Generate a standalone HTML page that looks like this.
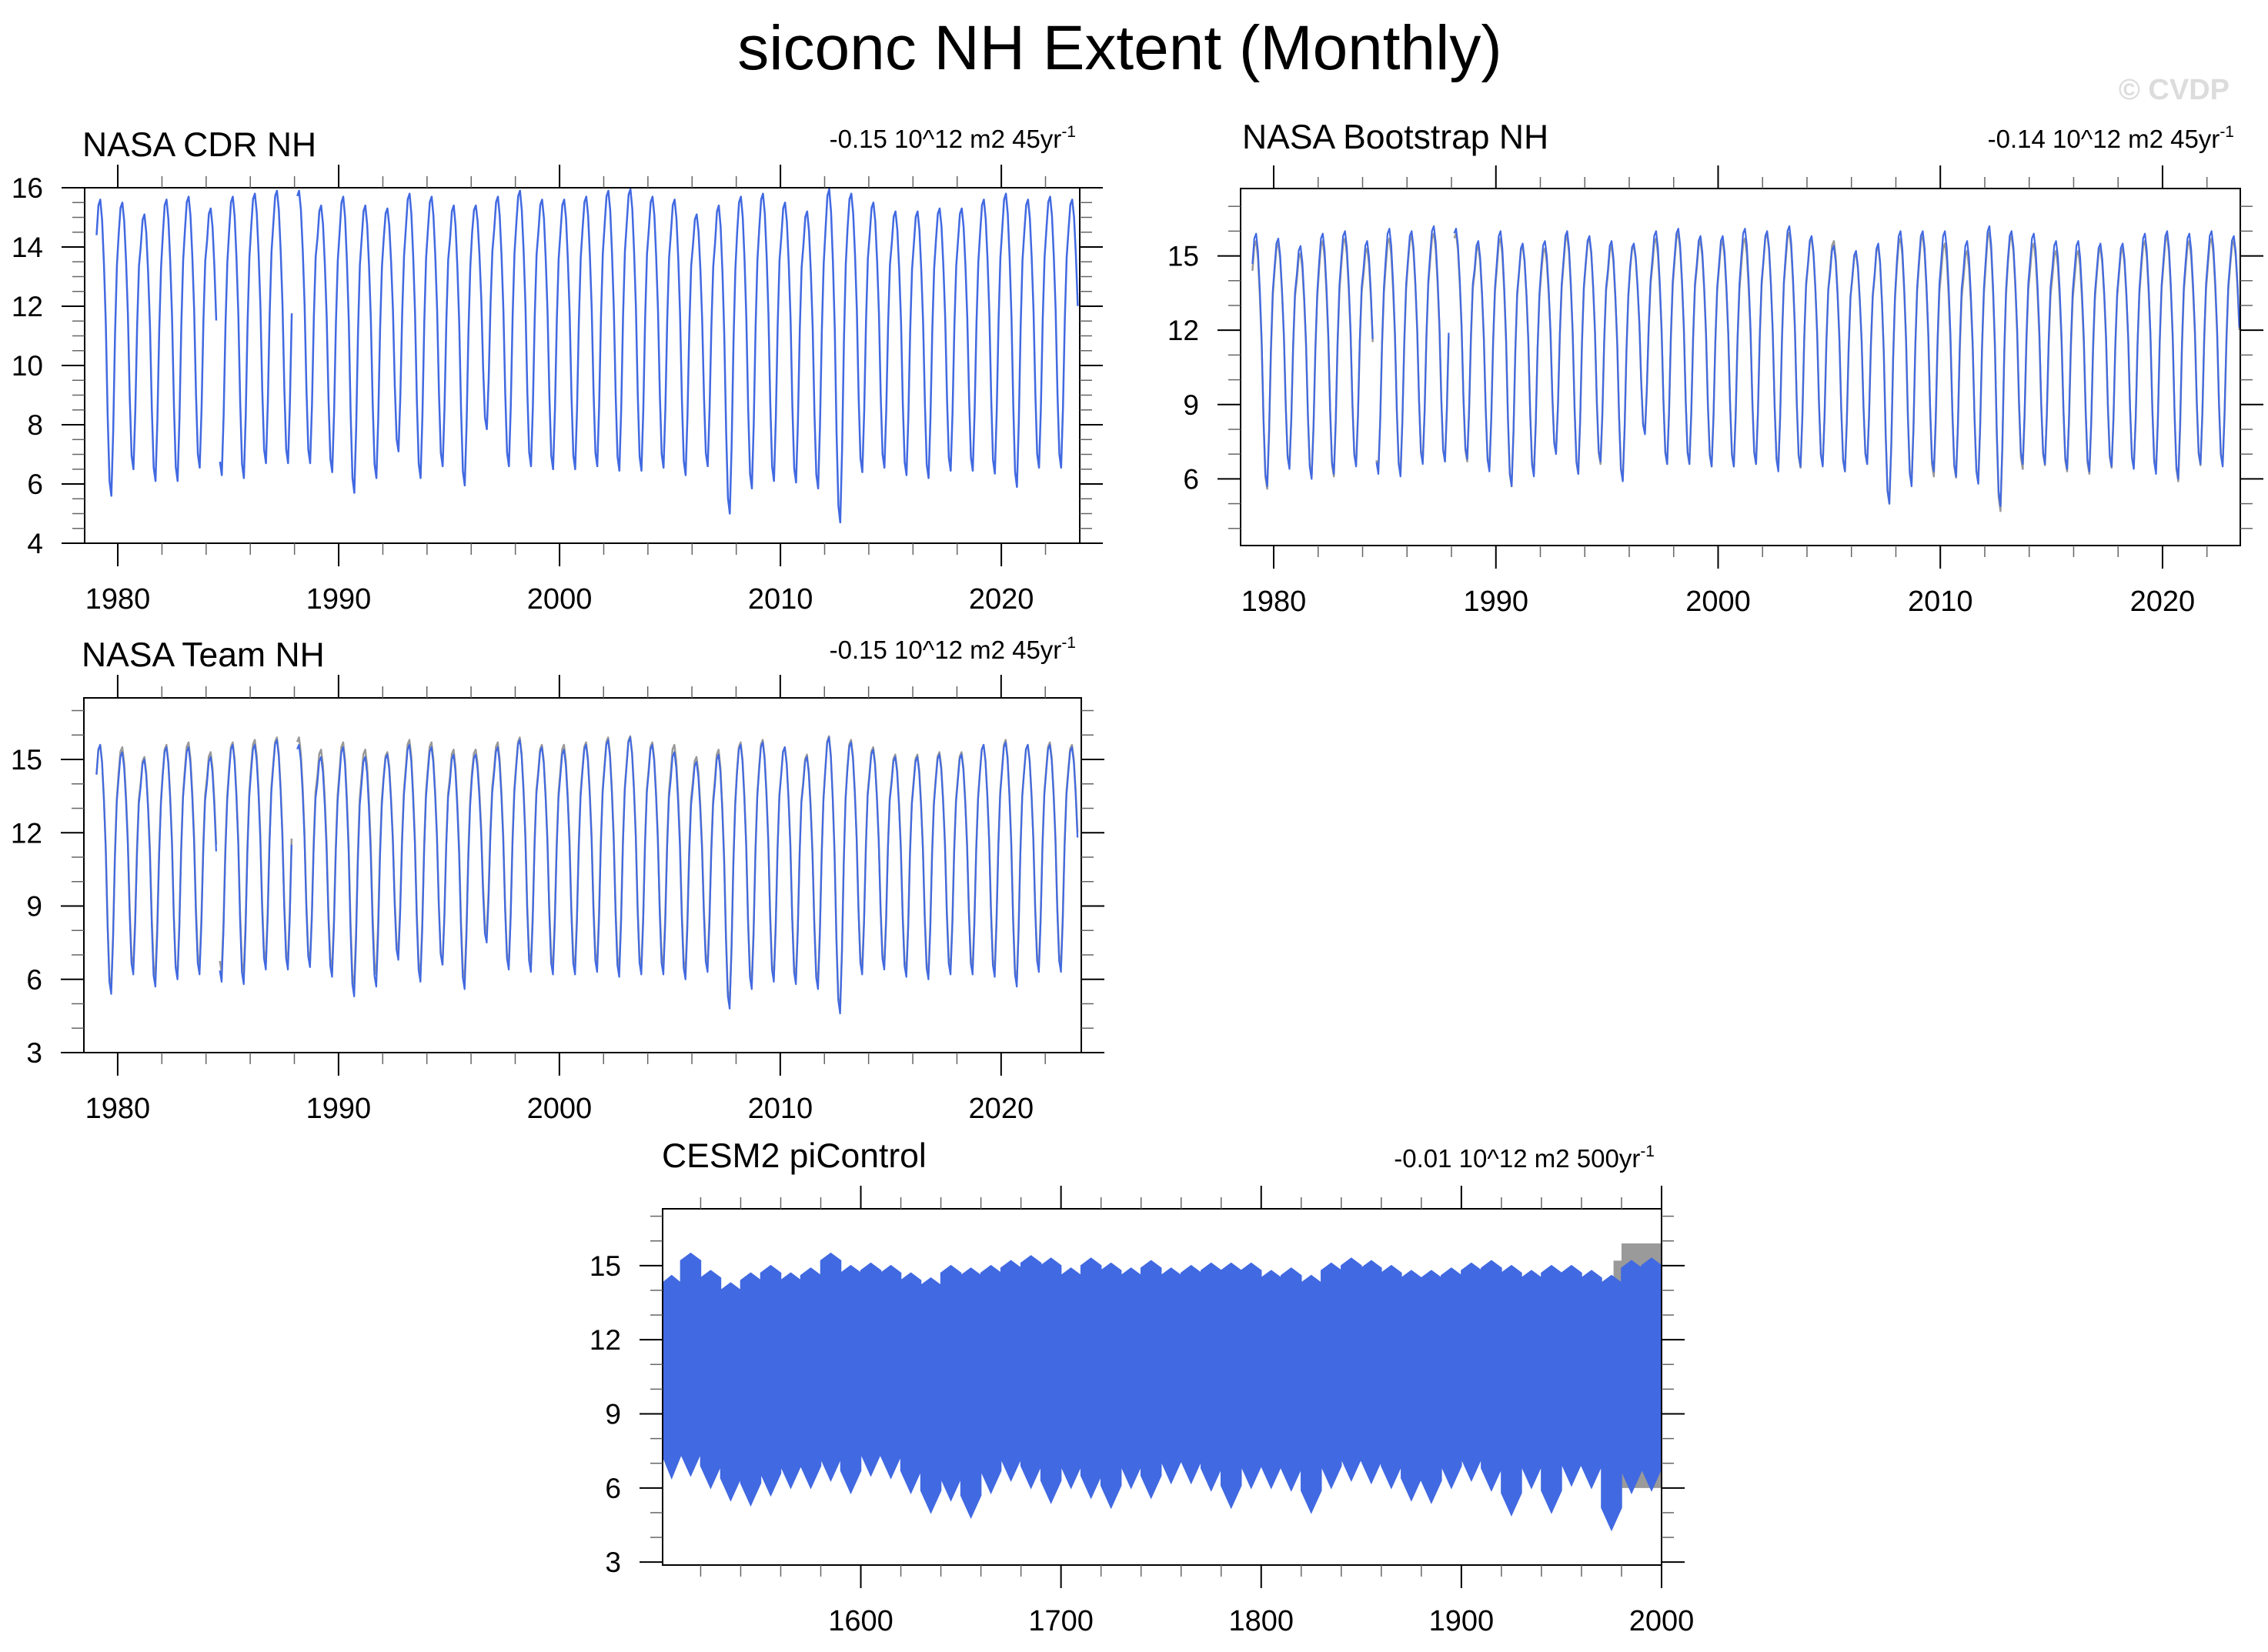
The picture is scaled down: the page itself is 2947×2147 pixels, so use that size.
<!DOCTYPE html>
<html><head><meta charset="utf-8">
<style>
html,body{margin:0;padding:0;background:#fff;}
svg{display:block;font-family:"Liberation Sans",Arial,sans-serif;}
</style></head>
<body>
<svg id="fig" width="2947" height="2147" viewBox="0 0 2947 2147" xmlns="http://www.w3.org/2000/svg">
<text x="1455" y="90" font-size="82" text-anchor="middle">siconc NH Extent (Monthly)</text>
<text x="2897" y="129" font-size="38" font-weight="bold" fill="#dcdcdc" text-anchor="end">© CVDP</text>
</svg>
<script>
// ---- data (annual maxima / minima, 10^12 m2) ----
const obsYears = [1979,1980,1981,1982,1983,1984,1985,1986,1987,1988,1989,1990,1991,1992,1993,1994,1995,1996,1997,1998,1999,2000,2001,2002,2003,2004,2005,2006,2007,2008,2009,2010,2011,2012,2013,2014,2015,2016,2017,2018,2019,2020,2021,2022,2023];
const cdrMax = [15.6,15.5,15.1,15.6,15.7,15.3,15.7,15.8,15.9,15.9,15.4,15.7,15.4,15.3,15.8,15.7,15.4,15.4,15.7,15.9,15.6,15.6,15.7,15.9,15.95,15.7,15.6,15.1,15.4,15.7,15.8,15.5,15.2,15.95,15.8,15.5,15.2,15.2,15.3,15.3,15.6,15.8,15.6,15.7,15.6];
const cdrMin = [5.6,6.5,6.1,6.1,6.55,6.3,6.2,6.7,6.7,6.7,6.4,5.7,6.2,7.1,6.2,6.6,5.95,7.85,6.6,6.6,6.5,6.5,6.6,6.45,6.45,6.55,6.3,6.6,5.0,5.85,6.1,6.05,5.85,4.7,6.4,6.55,6.3,6.2,6.45,6.45,6.35,5.9,6.55,6.55,7.05];
const bootMax = [15.9,15.7,15.4,15.9,16.0,15.6,16.1,16.0,16.2,16.1,15.6,16.0,15.5,15.6,16.0,15.8,15.6,15.5,16.0,16.1,15.8,15.8,16.1,16.0,16.2,15.8,15.4,15.2,15.5,16.0,16.0,16.0,15.6,16.2,16.0,15.9,15.6,15.6,15.5,15.5,15.9,16.0,15.9,16.0,15.8];
const bootMin = [5.7,6.4,6.0,6.2,6.5,6.2,6.1,6.6,6.7,6.8,6.3,5.7,6.1,7.0,6.2,6.7,5.9,7.8,6.6,6.6,6.5,6.5,6.6,6.3,6.5,6.5,6.3,6.6,5.0,5.7,6.3,6.1,5.8,4.9,6.6,6.6,6.4,6.3,6.5,6.4,6.2,6.0,6.6,6.5,7.0];
const teamMax = [15.6,15.3,15.0,15.5,15.5,15.1,15.6,15.6,15.8,15.6,15.1,15.5,15.1,15.2,15.6,15.5,15.2,15.2,15.5,15.8,15.5,15.4,15.6,15.8,15.9,15.6,15.3,14.9,15.2,15.6,15.7,15.5,15.1,15.9,15.7,15.4,15.1,15.1,15.2,15.2,15.6,15.7,15.6,15.6,15.5];
const teamMin = [5.4,6.2,5.7,6.0,6.2,5.9,5.8,6.4,6.4,6.5,6.1,5.3,5.7,6.8,5.9,6.6,5.6,7.5,6.4,6.3,6.2,6.2,6.3,6.1,6.2,6.2,6.0,6.3,4.8,5.6,5.9,5.8,5.6,4.6,6.2,6.4,6.1,6.0,6.2,6.2,6.1,5.7,6.3,6.3,6.7];
// seasonal shape (fraction of annual range, Jan..Dec)
const seasonShape = [0.88,0.98,1.0,0.93,0.78,0.58,0.27,0.05,0.0,0.22,0.55,0.78];
const missingMonths = ["1984-07","1987-12","1988-01"];
const lastMonth = "2023-06";
// piControl decadal envelopes (1500s..1990s)
const ctlDecades = [1500,1510,1520,1530,1540,1550,1560,1570,1580,1590,1600,1610,1620,1630,1640,1650,1660,1670,1680,1690,1700,1710,1720,1730,1740,1750,1760,1770,1780,1790,1800,1810,1820,1830,1840,1850,1860,1870,1880,1890,1900,1910,1920,1930,1940,1950,1960,1970,1980,1990];
const ctlMax = [14.6,15.5,14.8,14.3,14.7,15.0,14.7,14.9,15.5,15.0,15.1,15.0,14.7,14.5,15.0,14.9,15.0,15.2,15.4,15.3,14.9,15.3,15.1,14.9,15.2,14.9,15.0,15.1,15.1,15.1,14.8,14.9,14.6,15.1,15.3,15.2,15.0,14.8,14.8,14.9,15.1,15.2,15.0,14.8,15.0,15.0,14.8,14.6,15.2,15.3];
const ctlMin = [6.4,6.5,6.0,5.5,5.3,5.7,6.0,6.0,6.3,5.8,6.5,6.4,5.8,5.0,5.5,4.8,5.8,6.3,6.0,5.4,6.0,5.6,5.2,6.0,5.6,6.2,6.2,5.9,5.2,6.0,6.0,5.9,5.0,6.0,6.3,6.2,6.0,5.5,5.4,6.0,6.3,5.9,4.9,6.0,5.0,6.1,6.0,4.3,5.8,5.9];
const ctlGrayDecades = [1976,1980,1990];
const ctlGrayMax = [15.2,15.9,15.9];
const ctlGrayMin = [6.3,6.0,6.0];

const NS="http://www.w3.org/2000/svg";
const svg=document.getElementById('fig');
function mk(tag,attrs,parent){const e=document.createElementNS(NS,tag);for(const k in attrs)e.setAttribute(k,attrs[k]);(parent||svg).appendChild(e);return e;}

function monthly(maxA,minA){
  const pts=[];
  let done=false;
  obsYears.forEach((y,i)=>{
    seasonShape.forEach((s,m)=>{
      if(done)return;
      const key=y+"-"+String(m+1).padStart(2,"0");
      const nextMax = i<obsYears.length-1?maxA[i+1]:maxA[i];
      const hi = m<8?maxA[i]:(maxA[i]+nextMax)/2;
      const v = minA[i]+s*(hi-minA[i]);
      pts.push({t:y+(m+0.5)/12,v:v,miss:missingMonths.includes(key)});
      if(key===lastMonth)done=true;
    });
  });
  return pts;
}

function panel(cfg){
  const g=mk('g',{});
  
  
  const X=t=>cfg.x0+(t-cfg.xd[0])/(cfg.xd[1]-cfg.xd[0])*(cfg.x1-cfg.x0);
  const Y=v=>cfg.y1-(v-cfg.yd[0])/(cfg.yd[1]-cfg.yd[0])*(cfg.y1-cfg.y0);
  cfg.draw(g,X,Y);
  const box=mk('rect',{x:cfg.x0,y:cfg.y0,width:cfg.x1-cfg.x0,height:cfg.y1-cfg.y0,fill:'none',stroke:'#000','stroke-width':2},g);
  
  
  for(let v=Math.ceil(cfg.yd[0]/cfg.yMinor)*cfg.yMinor; v<=cfg.yd[1]+1e-9; v+=cfg.yMinor){
    const y=Y(v);
    const major=Math.abs(v/cfg.yMajor-Math.round(v/cfg.yMajor))<1e-6;
    const L=major?30:16;
    mk('line',{x1:cfg.x0-L,x2:cfg.x0,y1:y,y2:y,stroke:major?'#000':'#666','stroke-width':major?2:1.5},g);
    mk('line',{x1:cfg.x1,x2:cfg.x1+L,y1:y,y2:y,stroke:major?'#000':'#666','stroke-width':major?2:1.5},g);
    if(major){
      const tl=mk('text',{x:cfg.x0-54,y:y+13,'font-size':37,'text-anchor':'end'},g);
      tl.textContent=String(Math.round(v));
      
      
    }
  }
  for(let t=Math.ceil(cfg.xd[0]/cfg.xMinor)*cfg.xMinor; t<=cfg.xd[1]+1e-9; t+=cfg.xMinor){
    const x=X(t);
    const major=t%cfg.xMajor===0;
    const L=major?30:15;
    mk('line',{x1:x,x2:x,y1:cfg.y0-L,y2:cfg.y0,stroke:major?'#000':'#666','stroke-width':major?2:1.5},g);
    mk('line',{x1:x,x2:x,y1:cfg.y1,y2:cfg.y1+L,stroke:major?'#000':'#666','stroke-width':major?2:1.5},g);
    if(major){
      const tl=mk('text',{x:x,y:cfg.y1+85,'font-size':38,'text-anchor':'middle'},g);
      tl.textContent=String(t);
      
      
    }
  }
  const ti=mk('text',{x:cfg.titleX,y:cfg.titleY,'font-size':44.5},g);
  ti.textContent=cfg.title;
  
  
  const tr=mk('text',{x:cfg.trendX,y:cfg.trendY,'font-size':33,'text-anchor':'end'},g);
  tr.textContent=cfg.trend;
  const sup=mk('tspan',{dy:-14,'font-size':21},tr);
  sup.textContent='-1';
  
  
}

function lineOf(g,pts,X,Y,color,w,name){
  let d='',pen=false;
  pts.forEach(p=>{
    if(p.miss){pen=false;return;}
    d+=(pen?'L':'M')+X(p.t).toFixed(1)+','+Y(p.v).toFixed(1);
    pen=true;
  });
  const path=mk('path',{d:d,fill:'none',stroke:color,'stroke-width':w,'stroke-linejoin':'round'},g);
  
  
}

const cdr=monthly(cdrMax,cdrMin), boot=monthly(bootMax,bootMin), team=monthly(teamMax,teamMin);

panel({name:'panel-nasa-cdr',x0:110,x1:1403,y0:244,y1:706,xd:[1978.5,2023.55],yd:[4,16],yMajor:2,yMinor:0.5,xMajor:10,xMinor:2,
  title:'NASA CDR NH',titleX:107,titleY:203,trend:'-0.15 10^12 m2 45yr',trendX:1398,trendY:192,
  draw:(g,X,Y)=>{lineOf(g,cdr,X,Y,'#4169e1',2.5,'series-nasa-cdr');}});
panel({name:'panel-nasa-bootstrap',x0:1612,x1:2911,y0:245,y1:709,xd:[1978.51,2023.5],yd:[3.31,17.72],yMajor:3,yMinor:1,xMajor:10,xMinor:2,
  title:'NASA Bootstrap NH',titleX:1614,titleY:193,trend:'-0.14 10^12 m2 45yr',trendX:2903,trendY:192,
  draw:(g,X,Y)=>{lineOf(g,cdr,X,Y,'#999',2.5,'series-reference');lineOf(g,boot,X,Y,'#4169e1',2.2,'series-nasa-bootstrap');}});
panel({name:'panel-nasa-team',x0:109,x1:1405,y0:907,y1:1368,xd:[1978.47,2023.63],yd:[3,17.52],yMajor:3,yMinor:1,xMajor:10,xMinor:2,
  title:'NASA Team NH',titleX:106,titleY:866,trend:'-0.15 10^12 m2 45yr',trendX:1398,trendY:856,
  draw:(g,X,Y)=>{lineOf(g,cdr,X,Y,'#999',2.5,'series-reference');lineOf(g,team,X,Y,'#4169e1',2.2,'series-nasa-team');}});
panel({name:'panel-cesm2-picontrol',x0:861,x1:2159,y0:1571,y1:2034,xd:[1501,2000],yd:[2.88,17.3],yMajor:3,yMinor:1,xMajor:100,xMinor:20,
  title:'CESM2 piControl',titleX:860,titleY:1517,trend:'-0.01 10^12 m2 500yr',trendX:2150,trendY:1517,
  draw:(g,X,Y)=>{
    let top='',bot='';
    ctlGrayDecades.forEach((d,i)=>{const x0=X(Math.max(d,1501)),x1=X(i<ctlGrayDecades.length-1?ctlGrayDecades[i+1]:2000);top+=`${x0},${Y(ctlGrayMax[i])} ${x1},${Y(ctlGrayMax[i])} `;});
    for(let i=ctlGrayDecades.length-1;i>=0;i--){const d=ctlGrayDecades[i];const x0=X(d),x1=X(i<ctlGrayDecades.length-1?ctlGrayDecades[i+1]:2000);bot+=`${x1},${Y(ctlGrayMin[i])} ${x0},${Y(ctlGrayMin[i])} `;}
    const gp=mk('polygon',{points:top+bot,fill:'#9a9a9a'},g);
    
    
    let up='',lo='';
    ctlDecades.forEach((d,i)=>{const xa=X(Math.max(d,1501)),xb=X(Math.min(d+10,2000));up+=`${xa},${Y(ctlMax[i]-0.3)} ${(xa+xb)/2},${Y(ctlMax[i])} ${xb},${Y(ctlMax[i]-0.3)} `;});
    for(let i=ctlDecades.length-1;i>=0;i--){const d=ctlDecades[i];const xa=X(Math.max(d,1501)),xb=X(Math.min(d+10,2000));lo+=`${xb},${Y(ctlMin[i]+0.9)} ${(xa+xb)/2},${Y(ctlMin[i])} ${xa},${Y(ctlMin[i]+0.9)} `;}
    const bp=mk('polygon',{points:up+lo,fill:'#4169e1',stroke:'#4169e1','stroke-width':1.5},g);
    
    
  }});
</script>
</body></html>
